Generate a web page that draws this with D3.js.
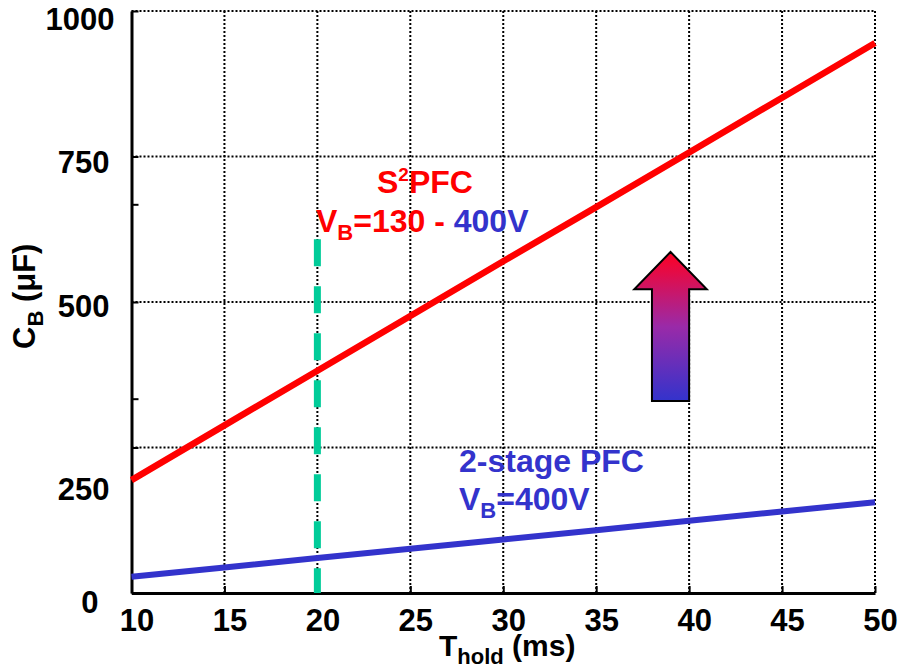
<!DOCTYPE html>
<html>
<head>
<meta charset="utf-8">
<script src="https://cdn.jsdelivr.net/npm/d3@7"></script>
<style>
  html, body { margin: 0; padding: 0; background: #fff; }
  svg { display: block; }
  text { font-family: "Liberation Sans", Arial, Helvetica, sans-serif; font-weight: bold; }
</style>
</head>
<body>
<svg id="chart" width="902" height="672"></svg>
<script>
// Hold-up time (ms) and the bulk capacitance (uF) needed for each converter
const holdTimes = [10, 15, 20, 25, 30, 35, 40, 45, 50];
const s2pfcCap = [194, 288, 382, 476, 570, 663, 757, 851, 945];
const twoStageCap = [28, 44, 60, 76, 92, 108, 124, 140, 156];

// Axis ticks
const xTicks = [10, 15, 20, 25, 30, 35, 40, 45, 50];
const yTicks = [0, 250, 500, 750, 1000];
const yMinorTicks = [333, 667];

// Design point marker and the trend arrow
const designHoldTime = 20;
const designMarkerTop = 608;
const arrowCenterT = 39;
const arrowTipC = 586;
const arrowHeadBaseC = 522;
const arrowTailC = 330;

const svg = d3.select("#chart");

const x = d3.scaleLinear().domain([10, 50]).range([131.5, 875]);
const y = d3.scaleLinear().domain([0, 1000]).range([593, 11]);

// Dotted grid
const grid = svg.append("g")
  .attr("stroke", "#000")
  .attr("stroke-width", 2)
  .attr("stroke-dasharray", "2,2");
grid.selectAll("line.gx").data(xTicks.filter(d => d > 10)).join("line")
  .attr("x1", d => x(d)).attr("x2", d => x(d))
  .attr("y1", y(1000)).attr("y2", y(0));
grid.selectAll("line.gy").data(yTicks.filter(d => d > 0)).join("line")
  .attr("x1", x(10)).attr("x2", x(50))
  .attr("y1", d => y(d)).attr("y2", d => y(d));

// Axes: solid left and bottom lines, inward ticks
const xAxis = d3.axisBottom(x).tickValues(xTicks).tickSizeInner(-7).tickSizeOuter(0).tickFormat(d3.format("d"));
const gx = svg.append("g").attr("transform", `translate(0,${y(0)})`).call(xAxis);
gx.select(".domain").attr("stroke", "#000").attr("stroke-width", 3);
gx.selectAll(".tick line").attr("stroke", "#000").attr("stroke-width", 2);
gx.selectAll(".tick text")
  .attr("fill", "#000")
  .attr("font-size", 31)
  .attr("font-family", "'Liberation Sans', Arial, sans-serif")
  .attr("font-weight", "bold")
  .attr("dx", 5)
  .attr("dy", 0)
  .attr("y", 38);

const yAxis = d3.axisLeft(y).tickValues(yTicks).tickSizeInner(-7).tickSizeOuter(0).tickFormat(d3.format("d"));
const gy = svg.append("g").attr("transform", `translate(${x(10)},0)`).call(yAxis);
gy.select(".domain").attr("stroke", "#000").attr("stroke-width", 3);
gy.selectAll(".tick line").attr("stroke", "#000").attr("stroke-width", 2);
const yLabelNudge = { 0: 8, 250: 41, 500: 3, 750: 5, 1000: 7 };
const yLabelShift = { 0: -14, 250: -3, 500: -3, 750: -3, 1000: 2 };
gy.selectAll(".tick text")
  .attr("fill", "#000")
  .attr("font-size", 31)
  .attr("font-family", "'Liberation Sans', Arial, sans-serif")
  .attr("font-weight", "bold")
  .attr("x", d => -19 + yLabelShift[d])
  .attr("dy", d => (yLabelNudge[d] + 11) + "px");
gy.selectAll("line.minor").data(yMinorTicks).join("line")
  .attr("x1", 0).attr("x2", 7)
  .attr("y1", d => y(d)).attr("y2", d => y(d))
  .attr("stroke", "#000").attr("stroke-width", 2);

// Series lines
const line = d3.line().x(d => x(d[0])).y(d => y(d[1]));
svg.append("path")
  .datum(holdTimes.map((t, i) => [t, s2pfcCap[i]]))
  .attr("d", line).attr("fill", "none")
  .attr("stroke", "#ff0000").attr("stroke-width", 6.5);
svg.append("path")
  .datum(holdTimes.map((t, i) => [t, twoStageCap[i]]))
  .attr("d", line).attr("fill", "none")
  .attr("stroke", "#3333cc").attr("stroke-width", 6);

// Design point: dashed vertical marker at 20 ms
svg.append("line")
  .attr("x1", x(designHoldTime)).attr("x2", x(designHoldTime))
  .attr("y1", y(designMarkerTop)).attr("y2", y(0))
  .attr("stroke", "#00cc99").attr("stroke-width", 7)
  .attr("stroke-dasharray", "27,20");

// Gradient arrow indicating the capacitance increase
const defs = svg.append("defs");
const grad = defs.append("linearGradient").attr("id", "arrowGrad")
  .attr("x1", 0).attr("y1", 0).attr("x2", 0).attr("y2", 1);
grad.append("stop").attr("offset", "0%").attr("stop-color", "#ff0022");
grad.append("stop").attr("offset", "50%").attr("stop-color", "#9a2aa8");
grad.append("stop").attr("offset", "100%").attr("stop-color", "#3333cc");
const ap = d3.path();
ap.moveTo(x(arrowCenterT), y(arrowTipC));
ap.lineTo(x(arrowCenterT + 1.95), y(arrowHeadBaseC));
ap.lineTo(x(arrowCenterT + 1.0), y(arrowHeadBaseC));
ap.lineTo(x(arrowCenterT + 1.0), y(arrowTailC));
ap.lineTo(x(arrowCenterT - 1.0), y(arrowTailC));
ap.lineTo(x(arrowCenterT - 1.0), y(arrowHeadBaseC));
ap.lineTo(x(arrowCenterT - 1.95), y(arrowHeadBaseC));
ap.closePath();
svg.append("path").attr("d", ap.toString())
  .attr("fill", "url(#arrowGrad)")
  .attr("stroke", "#000").attr("stroke-width", 2)
  .attr("stroke-linejoin", "miter");

// Series annotations
const red = "#ff0000", blue = "#3333cc";
const t1 = svg.append("text").attr("x", 377).attr("y", 193).attr("font-size", 32).attr("fill", red);
t1.append("tspan").text("S");
t1.append("tspan").attr("font-size", 19).attr("dy", -12).text("2");
t1.append("tspan").attr("dy", 12).text("PFC");

const t2 = svg.append("text").attr("x", 316).attr("y", 232).attr("font-size", 32).attr("fill", red);
t2.append("tspan").text("V");
t2.append("tspan").attr("font-size", 22).attr("dy", 8).text("B");
t2.append("tspan").attr("dy", -8).text("=130 - ");
t2.append("tspan").attr("fill", blue).text("400V");

const t3 = svg.append("text").attr("x", 459).attr("y", 472).attr("font-size", 32).attr("fill", blue)
  .text("2-stage PFC");
const t4 = svg.append("text").attr("x", 459).attr("y", 510).attr("font-size", 32).attr("fill", blue);
t4.append("tspan").text("V");
t4.append("tspan").attr("font-size", 22).attr("dy", 8).text("B");
t4.append("tspan").attr("dy", -8).text("=400V");

// Axis titles
const xt = svg.append("text").attr("x", 439).attr("y", 656).attr("font-size", 30).attr("fill", "#000");
xt.append("tspan").text("T");
xt.append("tspan").attr("font-size", 22).attr("dy", 8).text("hold");
xt.append("tspan").attr("dy", -8).text(" (ms)");

const yt = svg.append("text")
  .attr("transform", "translate(35,349) rotate(-90)")
  .attr("font-size", 31).attr("fill", "#000");
yt.append("tspan").text("C");
yt.append("tspan").attr("font-size", 22).attr("dy", 8).text("B");
yt.append("tspan").attr("dy", -8).text(" (μF)");
</script>
</body>
</html>
